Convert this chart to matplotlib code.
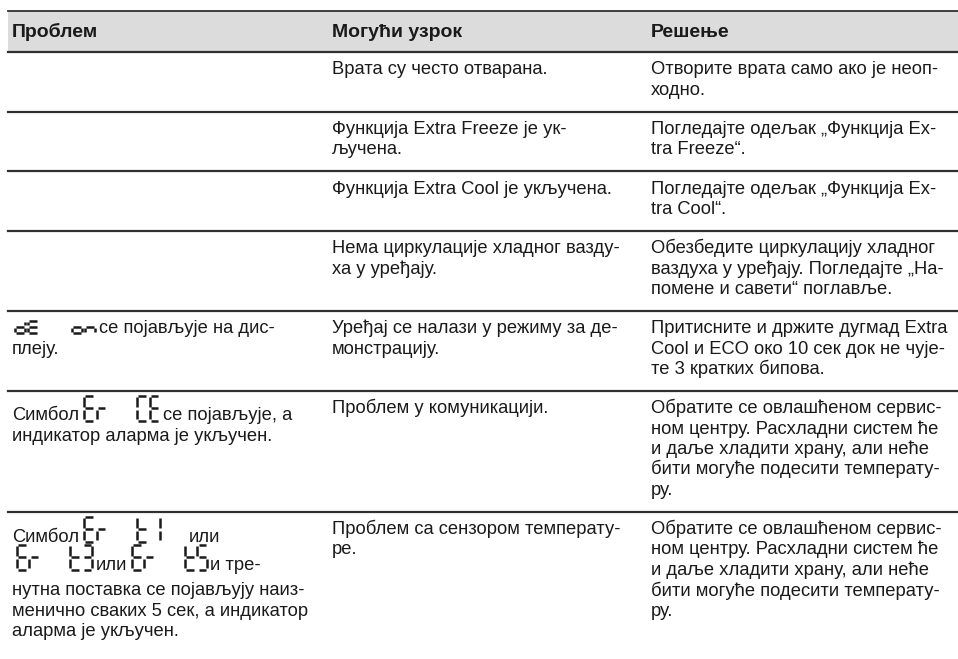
import re
import matplotlib
matplotlib.use("Agg")
import matplotlib.pyplot as plt

# ---------------- data ----------------
headers = ["Проблем", "Могући узрок", "Решење"]

# [a|b] = tall seven-segment display symbol, {a|b} = small display symbol
problems = [
    "",
    "",
    "",
    "",
    "{dE|on} се појављује на дис-\nплеју.",
    "Симбол [Er|CE] се појављује, а\nиндикатор аларма је укључен.",
    "Симбол [Er|t1]      или\n[Er|t3] или [Er|t5] и тре-\nнутна поставка се појављују наиз-\n"
    "менично сваких 5 сек, а индикатор\nаларма је укључен.",
]

causes = [
    "Врата су често отварана.",
    "Функција Extra Freeze је ук-\nључена.",
    "Функција Extra Cool је укључена.",
    "Нема циркулације хладног вазду-\nха у уређају.",
    "Уређај се налази у режиму за де-\nмонстрацију.",
    "Проблем у комуникацији.",
    "Проблем са сензором температу-\nре.",
]

solutions = [
    "Отворите врата само ако је неоп-\nходно.",
    "Погледајте одељак „Функција Ex-\ntra Freeze“.",
    "Погледајте одељак „Функција Ex-\ntra Cool“.",
    "Обезбедите циркулацију хладног\nваздуха у уређају. Погледајте „На-\nпомене и савети“ поглавље.",
    "Притисните и држите дугмад Extra\nCool и ECO око 10 сек док не чује-\nте 3 кратких бипова.",
    "Обратите се овлашћеном сервис-\nном центру. Расхладни систем ће\nи даље хладити храну, али неће\nбити могуће подесити температу-\nру.",
    "Обратите се овлашћеном сервис-\nном центру. Расхладни систем ће\nи даље хладити храну, али неће\nбити могуће подесити температу-\nру.",
]

# ---------------- style / layout ----------------
W, H = 958, 659
FONT = "Liberation Sans"
FS = 13.2
HFS = 14.0
TXT = "#1a1a1a"
LINE = "#303030"
HDR_BG = "#dcdcdc"

TABLE_L = 8
TEXT_X = [12, 332, 651]
TOP = 11
HDR_BOTTOM = 52
HDR_BASE = 37
LH = 20.5
FIRST_BASE = 22.5
BOTTOM_PAD = 16.5
TALL_EXTRA_ABOVE = 7.5
TALL_EXTRA_BELOW = 5.0
SPACE_W = 5.2

SEG = {
    "E": "adefg", "r": "eg", "C": "adef", "t": "defg", "1": "bc",
    "3": "abcdg", "5": "acdfg", "d": "bcdeg", "o": "cdeg", "n": "ceg",
}
SYM_STYLE = {
    "tall": dict(h=24.5, w=10.0, pitch=12.5, g2=53.0, lw=1.8, pre=5.0, post=3.0),
    "small": dict(h=12.5, w=10.5, pitch=13.0, g2=57.0, lw=1.8, pre=3.0, post=4.0),
}

fig = plt.figure(figsize=(W / 100, H / 100), dpi=100)
ax = fig.add_axes([0, 0, 1, 1])
ax.set_xlim(0, W)
ax.set_ylim(H, 0)
ax.axis("off")
renderer = fig.canvas.get_renderer()


def draw_digit(x0, yb, ch, st):
    w, h, lw = st["w"], st["h"], st["lw"]
    gp = 1.3
    yt = yb - h
    ym = yb - h / 2
    segs = {
        "a": ((x0 + gp, yt), (x0 + w - gp, yt)),
        "b": ((x0 + w, yt + gp), (x0 + w, ym - gp)),
        "c": ((x0 + w, ym + gp), (x0 + w, yb - gp)),
        "d": ((x0 + gp, yb), (x0 + w - gp, yb)),
        "e": ((x0, ym + gp), (x0, yb - gp)),
        "f": ((x0, yt + gp), (x0, ym - gp)),
        "g": ((x0 + gp, ym), (x0 + w - gp, ym)),
    }
    for s in SEG.get(ch, ""):
        (xa, ya), (xb, yb2) = segs[s]
        ax.plot([xa, xb], [ya, yb2], color=TXT, lw=lw, solid_capstyle="butt")


def draw_symbol(x, yb, g1, g2, st):
    x += st["pre"]
    for i, ch in enumerate(g1):
        draw_digit(x + i * st["pitch"], yb, ch, st)
    for i, ch in enumerate(g2):
        draw_digit(x + st["g2"] + i * st["pitch"], yb, ch, st)
    return x + st["g2"] + (len(g2) - 1) * st["pitch"] + st["w"] + st["post"]


TOKEN = re.compile(r"(\[[^\]]+\]|\{[^}]+\})")


def draw_text(x, y, s, bold=False, fs=FS):
    t = ax.text(x, y, s, fontsize=fs, family=FONT, color=TXT, va="baseline",
                ha="left", fontweight="bold" if bold else "normal")
    return x + t.get_window_extent(renderer).width


def line_offsets(text):
    lines = text.split("\n")
    ys = []
    y = FIRST_BASE
    for i, ln in enumerate(lines):
        if i > 0:
            y += LH
            if lines[i - 1].startswith("["):
                y += TALL_EXTRA_BELOW
        if "[" in ln:
            y += TALL_EXTRA_ABOVE
        ys.append(y)
    return lines, ys


def cell_height(text):
    if not text:
        return 0
    _, ys = line_offsets(text)
    return ys[-1] + BOTTOM_PAD


def draw_cell(x, top, text):
    lines, ys = line_offsets(text)
    for ln, yo in zip(lines, ys):
        y = top + yo
        cx = x
        after_sym = False
        for part in TOKEN.split(ln):
            if not part:
                continue
            if part[0] in "[{":
                st = SYM_STYLE["tall" if part[0] == "[" else "small"]
                g1, g2 = part[1:-1].split("|")
                cx = draw_symbol(cx, y, g1, g2, st)
                after_sym = True
            else:
                s = part
                if after_sym:
                    s = s[1:] if s.startswith(" ") else s
                    n_extra = len(s) - len(s.lstrip(" "))
                    cx += n_extra * SPACE_W
                    s = s.lstrip(" ")
                s = s.rstrip(" ")
                if s:
                    cx = draw_text(cx, y, s)
                after_sym = False


# header
ax.add_patch(plt.Rectangle((TABLE_L, TOP), W - TABLE_L, HDR_BOTTOM - TOP,
                           facecolor=HDR_BG, edgecolor="none", zorder=0))
ax.plot([TABLE_L, W], [TOP, TOP], color=LINE, lw=1.3)
ax.plot([TABLE_L, W], [HDR_BOTTOM, HDR_BOTTOM], color=LINE, lw=1.6)
for tx, h in zip(TEXT_X, headers):
    draw_text(tx, HDR_BASE, h, bold=True, fs=HFS)

# body rows
top = HDR_BOTTOM
n = len(problems)
for r in range(n):
    cells = [problems[r], causes[r], solutions[r]]
    for tx, c in zip(TEXT_X, cells):
        if c:
            draw_cell(tx, top, c)
    rh = max(cell_height(c) for c in cells)
    top += rh
    if r < n - 1:
        ax.plot([TABLE_L, W], [top, top], color=LINE, lw=1.6)

fig.savefig("out.png", dpi=100)
